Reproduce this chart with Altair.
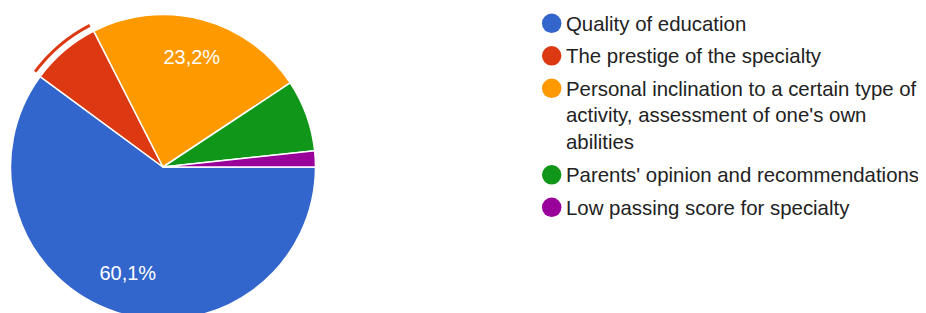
import math
import altair as alt
import pandas as pd

# ---- data ----
categories = [
    "Quality of education",
    "The prestige of the specialty",
    "Personal inclination to a certain type of activity, assessment of one's own abilities",
    "Parents' opinion and recommendations",
    "Low passing score for specialty",
]
legend_labels = [
    "Quality of education",
    "The prestige of the specialty",
    "Personal inclination to a certain type of\nactivity, assessment of one's own\nabilities",
    "Parents' opinion and recommendations",
    "Low passing score for specialty",
]
values = [60.1, 7.4, 23.2, 7.6, 1.7]
colors = ["#3366cc", "#dc3912", "#ff9900", "#109618", "#990099"]
hovered = ["The prestige of the specialty"]

df = pd.DataFrame(
    {
        "idx": list(range(len(categories))),
        "category": categories,
        "value": values,
        "legend": legend_labels,
    }
)
df["hover"] = df["category"].isin(hovered).astype(int)

FONT = "Liberation Sans"

theta = alt.Theta(
    "value:Q", stack=True, scale=alt.Scale(range=[math.pi / 2, 5 * math.pi / 2])
)
color = alt.Color(
    "category:N", scale=alt.Scale(domain=categories, range=colors), legend=None
)
order = alt.Order("idx:Q")
cx = alt.value(155)
cy = alt.value(159)

slices = (
    alt.Chart(df)
    .mark_arc(radius=152.5, stroke="white", strokeWidth=1.5)
    .encode(theta=theta, color=color, order=order, x=cx, y=cy)
)

highlight = (
    alt.Chart(df)
    .mark_arc(radius=161, radius2=158, padAngle=0.008)
    .encode(
        theta=theta,
        color=color,
        order=order,
        x=cx,
        y=cy,
        opacity=alt.Opacity("hover:Q", scale=None, legend=None),
    )
)

labels = (
    alt.Chart(df)
    .transform_calculate(
        label="datum.value >= 10 ? replace(format(datum.value, '.1f'), '.', ',') + '%' : ''"
    )
    .mark_text(radius=113, fontSize=20, font=FONT, color="white")
    .encode(theta=theta, order=order, text="label:N", x=cx, y=cy)
)

legend_base = (
    alt.Chart(df)
    .transform_calculate(
        n="length(split(datum.legend, '\\n'))",
        lines="split(datum.legend, '\\n')",
    )
    .transform_window(cum="sum(n)", sort=[alt.SortField("idx")])
    .transform_calculate(ly="27 * (datum.cum - datum.n) + 5.5 * datum.idx")
)
ly = alt.Y(
    "ly:Q",
    scale=alt.Scale(domain=[-15.3, 289.7], reverse=True, nice=False, zero=False),
    axis=None,
)

legend_dots = legend_base.mark_point(
    filled=True, shape="circle", size=380, opacity=1
).encode(x=alt.value(543.7), y=ly, color=color)

legend_text = legend_base.mark_text(
    align="left",
    baseline="alphabetic",
    dy=7.5,
    fontSize=20.4,
    lineHeight=26.5,
    font=FONT,
    color="#222222",
).encode(x=alt.value(558), y=ly, text="lines:N")

chart = (
    alt.layer(slices, highlight, labels, legend_dots, legend_text)
    .properties(
        width=910,
        height=305,
        padding=0,
        autosize=alt.AutoSizeParams(type="none"),
    )
    .configure(font=FONT, view=alt.ViewConfig(stroke=None))
)

chart.save("out.html", embed_options={"renderer": "svg", "actions": False})
